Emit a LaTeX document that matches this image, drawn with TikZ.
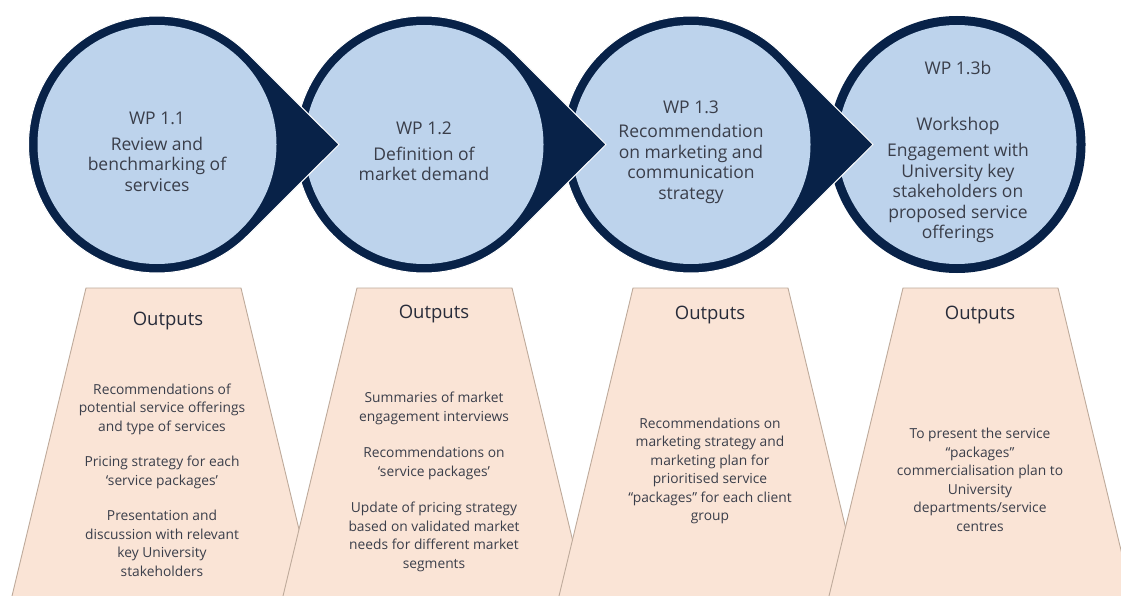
\documentclass[tikz,border=0pt]{standalone}
\usepackage{fontspec}
\setmainfont{Open Sans}
\usetikzlibrary{calc}
\definecolor{navy}{RGB}{8,34,72}
\definecolor{lblue}{RGB}{189,211,236}
\definecolor{peach}{RGB}{250,228,214}
\definecolor{peachline}{RGB}{190,170,155}
\definecolor{ctxt}{RGB}{58,62,74}
\definecolor{otxt}{RGB}{40,44,58}
\newcommand{\teardrop}[1]{%
  \filldraw[navy, draw=white, line width=1pt] (#1+182,144.5) -- ($(#1,144.5)+(45:128.5)$)
     arc[start angle=45, end angle=315, radius=128.5] -- cycle;
  \fill[lblue] (#1,144.5) circle[radius=119.5];
}
\newcommand{\plaincircle}[1]{%
  \fill[navy] (#1,144.5) circle[radius=128.5];
  \fill[lblue] (#1,144.5) circle[radius=119.5];
}
\newcommand{\trap}[1]{%
  \filldraw[fill=peach, draw=peachline, line width=0.9pt]
    (#1,288) -- (#1+155,288) -- (#1+155+86,646) -- (#1-86,646) -- cycle;
}
\tikzset{
  ctext/.style={font=\fontsize{17.5}{20.5}\selectfont, text=ctxt, align=center, inner sep=0pt},
  otitle/.style={font=\fontsize{18.5}{22}\selectfont, text=otxt, inner sep=0pt},
  otext/.style={font=\fontsize{13.8}{18.5}\selectfont, text=ctxt, align=center, inner sep=0pt}
}
\begin{document}
\begin{tikzpicture}[x=1pt,y=-1pt]
\clip (0,0) rectangle (1121,596);
\fill[white] (0,0) rectangle (1121,596);
% output trapezoids
\trap{86}
\trap{357}
\trap{633}
\trap{903}
% work package circles (right to left so arrow tips overlap the next circle)
\plaincircle{957}
\teardrop{691}
\teardrop{424}
\teardrop{157}
% circle texts
\node[ctext] (wp1) at (157,118) {WP 1.1};
\node[ctext] (d1) at (157,164) {Review and\\benchmarking of\\services};
\node[ctext] (wp2) at (424,128.5) {WP 1.2};
\node[ctext] (d2) at (424,164) {Definition of\\market demand};
\node[ctext] (wp3) at (691,107) {WP 1.3};
\node[ctext] (d3) at (691,164) {Recommendation\\on marketing and\\communication\\strategy};
\node[ctext] (wp4) at (958,68) {WP 1.3b};
\node[ctext] (ws4) at (958,126) {Workshop};
\node[ctext] (d4) at (958,193) {Engagement with\\University key\\stakeholders on\\proposed service\\offerings};
% outputs
\node[otitle] (o1) at (168,321) {Outputs};
\node[otitle] (o2) at (434,314) {Outputs};
\node[otitle] (o3) at (710,315) {Outputs};
\node[otitle] (o4) at (980,315) {Outputs};
\node[otext] (b1) at (162,480) {Recommendations of\\potential service offerings\\and type of services\\[17pt]Pricing strategy for each\\‘service packages’\\[17pt]Presentation and\\discussion with relevant\\key University\\stakeholders};
\node[otext] (b2) at (434,482) {Summaries of market\\engagement interviews\\[18pt]Recommendations on\\‘service packages’\\[18pt]Update of pricing strategy\\based on validated market\\needs for different market\\segments};
\node[otext] (b3) at (710,471) {Recommendations on\\marketing strategy and\\marketing plan for\\prioritised service\\“packages” for each client\\group};
\node[otext] (b4) at (980,480) {To present the service\\“packages”\\commercialisation plan to\\University\\departments/service\\centres};
\end{tikzpicture}
\end{document}
